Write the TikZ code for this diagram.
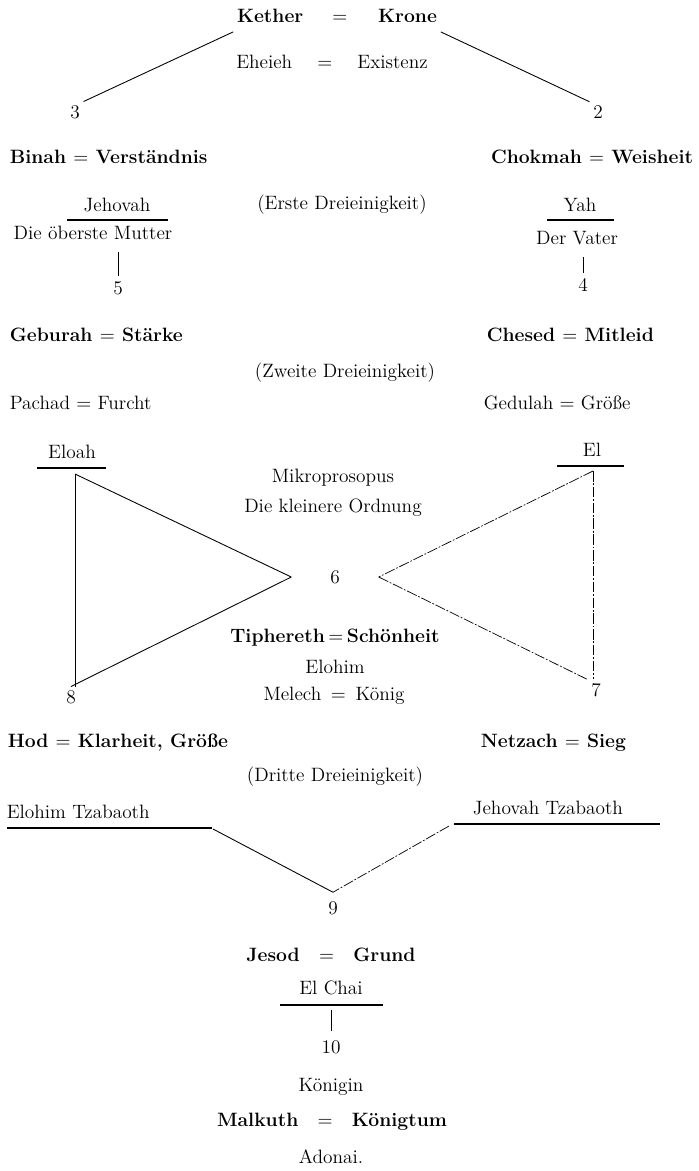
\documentclass[tikz,border=0pt]{standalone}
\usetikzlibrary{calc}

\begin{document}
\begin{tikzpicture}[x=0.02cm, y=-0.02cm,
    every node/.style={font=\fontsize{11}{13}\selectfont, inner sep=2pt},
    lbl/.style={anchor=west},
    lbr/.style={anchor=east},
    rule/.style={line width=1.3pt},
    link/.style={line width=0.5pt},
    faint/.style={line width=0.4pt, dash pattern=on 6pt off 1pt on 1pt off 1pt}]
    \useasboundingbox (0,0) rectangle (698,1171);

    % Kether
    \node[inner ysep=5pt] (kether) at (337,16) {\bfseries Kether\hspace{1.5em}$=$\hspace{1.6em}Krone};
    \node (eheieh) at (332,62) {Eheieh\hspace{1.3em}$=$\hspace{1.3em}Existenz};
    \node (three) at (75,112) {3};
    \node (two) at (598,112) {2};
    \draw[link] (kether.south west) -- (three.north east);
    \draw[link] (kether.south east) -- (two.north west);

    % first triad
    \node[lbl] (binah) at (6,157) {\bfseries Binah $=$ Verständnis};
    \node[lbr] (chokmah) at (697,157) {\bfseries Chokmah $=$ Weisheit};
    \node (jehovah) at (117,205) {Jehovah};
    \draw[rule] (67,220) -- (168,220);
    \node (erste) at (342,205) {(Erste Dreieinigkeit)};
    \node (yah) at (580,205) {Yah};
    \draw[rule] (547,220) -- (614,220);
    \node (mutter) at (93,233) {Die öberste Mutter};
    \node (vater) at (577,238) {Der Vater};
    \node (five) at (118,288) {5};
    \node (four) at (583,285) {4};
    \draw[link, shorten <=1pt, shorten >=5pt] (five.north) -- (five.north |- mutter.south);
    \draw[link, shorten <=1pt, shorten >=5pt] (four.north) -- (four.north |- vater.south);

    % second triad
    \node[lbl] (geburah) at (6,335) {\bfseries Geburah $=$ Stärke};
    \node[lbl] (chesed) at (483,335) {\bfseries Chesed $=$ Mitleid};
    \node (zweite) at (345,373) {(Zweite Dreieinigkeit)};
    \node[lbl] (pachad) at (6,403) {Pachad $=$ Furcht};
    \node[lbl] (gedulah) at (480,403) {Gedulah $=$ Größe};

    \node (eloah) at (72,452) {Eloah};
    \draw[rule] (37,468) -- (106,468);
    \node (el) at (592,450) {El};
    \draw[rule] (557,466) -- (624,466);
    \node (mikro) at (333,478) {Mikroprosopus};
    \node (ordnung) at (333,508) {Die kleinere Ordnung};
    \node[inner xsep=22pt] (six) at (335,577) {6};
    \node (tiph) at (335,638) {\bfseries Tiphereth\hspace{2pt}$=$\hspace{2pt}Schönheit};
    \node (elohim) at (335,667) {Elohim};
    \node (melech) at (334,696) {Melech\enspace$=$\enspace König};
    \node (eight) at (71,697) {8};
    \node (seven) at (596,690) {7};
    \coordinate (eloah-foot) at (75,474);
    \coordinate (el-foot) at (593,471);
    \draw[link] (eloah-foot) -- (eloah-foot |- eight.north);
    \draw[link] (eloah-foot) -- (six.west);
    \draw[link] (six.west) -- (eight.north);
    \draw[faint] (el-foot) -- (six.east);
    \draw[faint] (el-foot) -- (el-foot |- seven.north);
    \draw[faint] (six.east) -- (seven.north west);

    % third triad
    \node[lbl] (hod) at (4,743) {\bfseries Hod $=$ Klarheit, Größe};
    \node[lbl] (netzach) at (477,743) {\bfseries Netzach $=$ Sieg};
    \node (dritte) at (335,777) {(Dritte Dreieinigkeit)};
    \node[lbl] (elts) at (3,812) {Elohim Tzabaoth};
    \draw[rule] (7,828) -- (212,828);
    \node[lbl] (jehts) at (469,808) {Jehovah Tzabaoth};
    \draw[rule] (454,824) -- (660,824);
    \coordinate (elts-end) at (213,829);
    \coordinate (jehts-end) at (449,826);
    \node[inner ysep=5pt] (nine) at (333,908) {9};
    \draw[link] (elts-end) -- (nine.north);
    \draw[faint] (jehts-end) -- (nine.north);

    % Jesod and Malkuth
    \node (jesod) at (331,955) {\bfseries Jesod\quad$=$\quad Grund};
    \node (elchai) at (331,988) {El Chai};
    \draw[rule] (280,1005) -- (383,1005);
    \coordinate (elchai-foot) at (331,1010);
    \node (ten) at (331,1047) {10};
    \draw[link, shorten >=3pt] (elchai-foot) -- (ten.north);
    \node (koenigin) at (331,1087) {Königin};
    \node (malkuth) at (332,1122) {\bfseries Malkuth\quad$=$\quad Königtum};
    \node (adonai) at (331,1157) {Adonai.};
\end{tikzpicture}
\end{document}
